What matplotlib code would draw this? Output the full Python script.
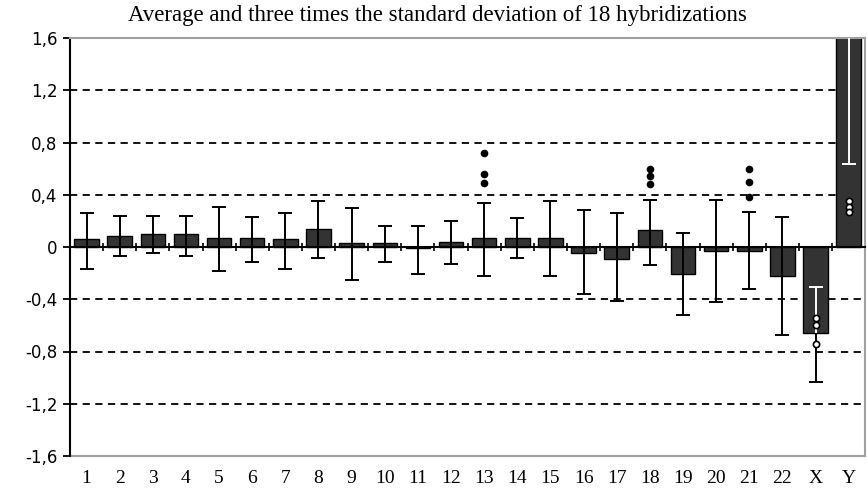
import matplotlib
matplotlib.use('Agg')
import matplotlib.pyplot as plt
import numpy as np

# chromosome categories
labels = [str(i) for i in range(1, 23)] + ['X', 'Y']
# average log ratio per chromosome
means = [0.058, 0.084, 0.10, 0.10, 0.07, 0.07, 0.058, 0.14, 0.03, 0.03, -0.01, 0.04,
         0.068, 0.068, 0.068, -0.046, -0.09, 0.127, -0.21, -0.03, -0.03, -0.22, -0.66, 1.9]
# upper and lower end of the 3*SD bars
err_hi = [0.258, 0.24, 0.24, 0.24, 0.31, 0.23, 0.258, 0.35, 0.296, 0.16, 0.16, 0.20,
          0.34, 0.22, 0.35, 0.28, 0.258, 0.36, 0.106, 0.36, 0.27, 0.23, -0.31, 3.0]
err_lo = [-0.17, -0.072, -0.046, -0.072, -0.18, -0.118, -0.17, -0.087, -0.25, -0.118, -0.21, -0.128,
          -0.22, -0.085, -0.22, -0.36, -0.41, -0.14, -0.52, -0.42, -0.32, -0.67, -1.03, 0.635]
# single hybridizations outside the range
out_cat = ['13', '13', '13', '18', '18', '18', '21', '21', '21', 'X', 'X', 'X', 'Y', 'Y', 'Y']
out_val = [0.72, 0.56, 0.49, 0.60, 0.54, 0.48, 0.60, 0.50, 0.38, -0.54, -0.60, -0.74, 0.35, 0.31, 0.27]
# sex chromosomes drawn with white bars inside the column
white_err = ['X', 'Y']

yticks = [-1.6, -1.2, -0.8, -0.4, 0, 0.4, 0.8, 1.2, 1.6]
ytick_labels = ['-1,6', '-1,2', '-0,8', '-0,4', '0', '0,4', '0,8', '1,2', '1,6']

fig = plt.figure(figsize=(8.67, 5.0), dpi=100)
ax = fig.add_axes([0.0807, 0.088, 0.9173, 0.836])

x = np.arange(len(labels))
means = np.array(means)
err_hi = np.array(err_hi)
err_lo = np.array(err_lo)

for yv in yticks:
    if yv not in (0, 1.6, -1.6):
        ax.axhline(yv, color='black', lw=1.3, ls=(0, (4, 3)), zorder=1)

ax.bar(x, means, width=0.74, color='#333333', edgecolor='black', lw=1, zorder=2)

ax.errorbar(x, means, yerr=[means - err_lo, err_hi - means], fmt='none',
            ecolor='black', elinewidth=1.4, capsize=5, capthick=1.4, zorder=3)

# white part of the bar that lies inside the column
for i, lab in enumerate(labels):
    if lab not in white_err:
        continue
    m = means[i]
    lo_b, hi_b = min(0, m), max(0, m)
    seg_lo = max(err_lo[i], lo_b)
    seg_hi = min(err_hi[i], hi_b)
    ax.vlines(x[i], seg_lo, seg_hi, color='white', lw=1.4, zorder=4)
    for cap in (err_lo[i], err_hi[i]):
        if lo_b <= cap <= hi_b:
            ax.plot(x[i], cap, marker='_', color='white', ms=10, mew=1.4, zorder=4)

for c, v in zip(out_cat, out_val):
    i = labels.index(c)
    if c in white_err:
        ax.plot(x[i], v, 'o', mfc='white', mec='black', ms=4.5, mew=1.2, zorder=5)
    else:
        ax.plot(x[i], v, 'o', color='black', ms=4.5, zorder=5)

ax.set_xlim(-0.5, len(labels) - 0.5)
ax.set_ylim(-1.6, 1.6)
ax.set_yticks(yticks)
ax.set_yticklabels(ytick_labels, fontsize=12, family='DejaVu Sans')
ax.tick_params(axis='y', length=5, width=1.3, pad=4)

# category axis crosses at zero, labels at the bottom
ax.spines['bottom'].set_position(('data', 0))
ax.spines['bottom'].set_linewidth(1.5)
ax.set_xticks(np.arange(-0.5, len(labels), 1.0))
ax.set_xticklabels([])
ax.tick_params(axis='x', direction='inout', length=6, width=1.2)

ax.spines['left'].set_linewidth(1.5)
for s in ('top', 'right'):
    ax.spines[s].set_color('#a0a0a0')
    ax.spines[s].set_linewidth(1.5)

sec = ax.secondary_xaxis(0.0)
sec.set_xticks(x)
sec.set_xticklabels(labels, fontsize=14, family='Liberation Serif')
sec.tick_params(length=0, pad=10)
sec.spines['bottom'].set_color('#a0a0a0')
sec.spines['bottom'].set_linewidth(1.5)

fig.text(0.504, 0.968, 'Average and three times the standard deviation of 18 hybridizations',
         ha='center', va='center', fontsize=16.5, family='Liberation Serif')

fig.savefig('out.png', dpi=100)
